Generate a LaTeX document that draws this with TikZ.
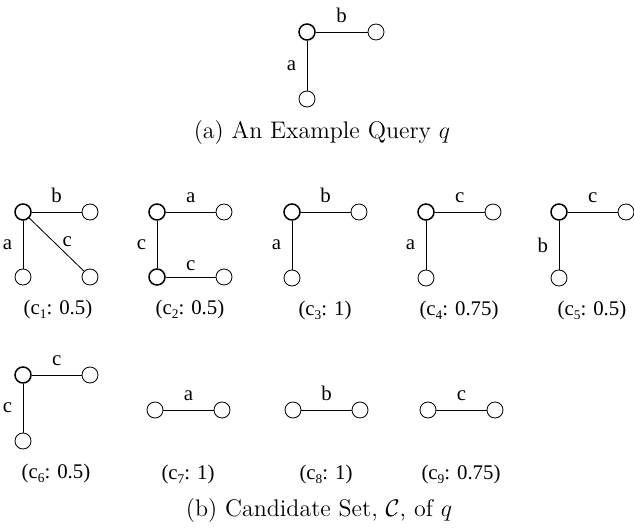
\documentclass[tikz,border=0pt]{standalone}
\usepackage{amsmath,amssymb}
\usepackage{fontspec}
\newfontfamily\tms{Liberation Serif}
\usetikzlibrary{positioning}
\newcommand{\sub}[1]{\raisebox{-2.6pt}{\footnotesize #1}}

\begin{document}
\begin{tikzpicture}[x=.6pt,y=.6pt,
  vx/.style={circle,draw,line width=.5pt,minimum size=9.6pt,inner sep=0pt},
  hub/.style={vx,line width=.9pt},
  lbl/.style={font=\tms\fontsize{12.5}{14}\selectfont},
  score/.style={font=\tms\fontsize{12.5}{14}\selectfont},
  subcap/.style={font=\fontsize{14.4}{16}\selectfont}]
\useasboundingbox (0,0) rectangle (634,-528);
% Query q.
\node[hub] (q-t) at (307,-32) {};
\node[vx] (q-r) at (376,-32) {};
\node[vx] (q-b) at (307,-99) {};
\draw[line width=.5pt] (q-t) -- node[lbl,above=2pt]{b} (q-r);
\draw[line width=.5pt] (q-t) -- node[lbl,left=3pt]{a} (q-b);
\node[subcap] (cap-a) at (322,-133) {(a) An Example Query $q$};
% c1 with three edges.
\node[hub] (c1-t) at (23,-212) {};
\node[vx] (c1-r) at (90,-212) {};
\node[vx] (c1-b) at (23,-277) {};
\node[vx] (c1-d) at (90,-277) {};
\draw[line width=.5pt] (c1-t) -- node[lbl,above=2pt]{b} (c1-r);
\draw[line width=.5pt] (c1-t) -- node[lbl,left=3pt]{a} (c1-b);
\draw[line width=.5pt] (c1-t) -- node[lbl,right,yshift=1.5pt]{c} (c1-d);
\node[score] (c1-s) at (58,-309) {(c\sub{1}: 0.5)};
% c2, path of three edges.
\node[hub] (c2-t) at (157,-212) {};
\node[vx] (c2-r) at (224,-212) {};
\node[hub] (c2-b) at (157,-277) {};
\node[vx] (c2-d) at (224,-277) {};
\draw[line width=.5pt] (c2-t) -- node[lbl,above=2pt]{a} (c2-r);
\draw[line width=.5pt] (c2-t) -- node[lbl,left=3pt]{c} (c2-b);
\draw[line width=.5pt] (c2-b) -- node[lbl,above=0pt]{c} (c2-d);
\node[score] (c2-s) at (190,-309) {(c\sub{2}: 0.5)};
% L-shaped candidates c3 to c6.
\foreach \n/\x/\y/\h/\v/\s in {3/292/-212/b/a/1,4/426/-212/c/a/0.75,5/559/-212/c/b/0.5,6/23/-375/c/c/0.5}{
  \node[hub] (c\n-t) at (\x,\y) {};
  \node[vx] (c\n-r) at (\x+67,\y) {};
  \node[vx] (c\n-b) at (\x,\y-66) {};
  \draw[line width=.5pt] (c\n-t) -- node[lbl,above=2pt]{\h} (c\n-r);
  \draw[line width=.5pt] (c\n-t) -- node[lbl,left=3pt]{\v} (c\n-b);
  \node[score] (c\n-s) at (\x+33,\y-98) {(c\sub{\n}: \s)};
}
% Single edges c7 to c9.
\foreach \n/\x/\h/\s in {7/155/a/1,8/293/b/1,9/428/c/0.75}{
  \node[vx] (c\n-l) at (\x,-410) {};
  \node[vx] (c\n-r) at (\x+67,-410) {};
  \draw[line width=.5pt] (c\n-l) -- node[lbl,above=2pt]{\h} (c\n-r);
  \node[score] (c\n-s) at (\x+33,-474) {(c\sub{\n}: \s)};
}
\node[subcap] (cap-b) at (319,-511) {(b) Candidate Set, $\mathcal{C}$, of $q$};
\end{tikzpicture}
\end{document}
